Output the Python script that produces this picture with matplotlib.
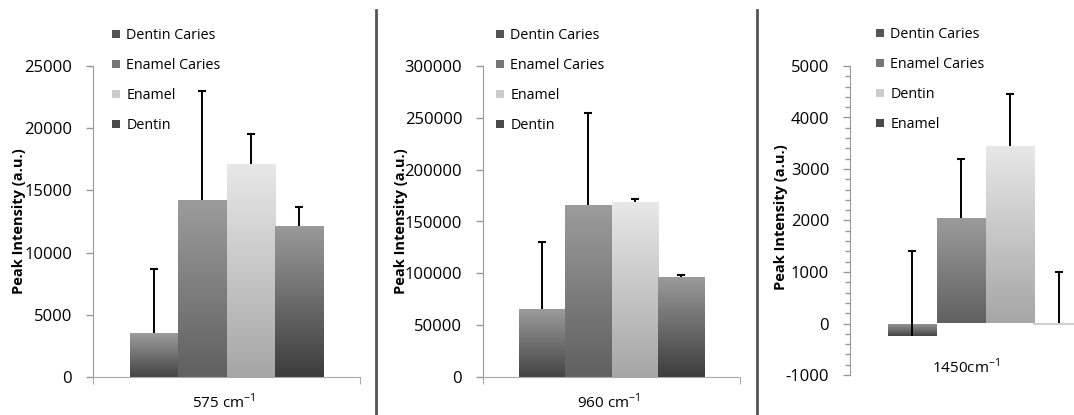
import numpy as np
import matplotlib
matplotlib.use("Agg")
import matplotlib.pyplot as plt
from matplotlib.colors import LinearSegmentedColormap
from matplotlib.patches import Patch
from matplotlib.lines import Line2D
from matplotlib.ticker import MultipleLocator

plt.rcParams['font.family'] = ['Open Sans', 'DejaVu Sans']
plt.rcParams['mathtext.fontset'] = 'custom'
plt.rcParams['mathtext.rm'] = 'Open Sans'
plt.rcParams['axes.unicode_minus'] = False

# ---- data ----
labels_575 = ["Dentin Caries", "Enamel Caries", "Enamel", "Dentin"]
values_575 = [3500, 14250, 17150, 12150]
err_top_575 = [8700, 23000, 19500, 13700]

labels_960 = ["Dentin Caries", "Enamel Caries", "Enamel", "Dentin"]
values_960 = [66000, 166000, 169000, 96000]
err_top_960 = [130000, 255000, 172000, 98000]

labels_1450 = ["Dentin Caries", "Enamel Caries", "Dentin", "Enamel"]
values_1450 = [-250, 2050, 3450, 10]
err_top_1450 = [1400, 3200, 4450, 1000]

xlabels = ["575 cm$^{-1}$", "960 cm$^{-1}$", "1450cm$^{-1}$"]
ylabel = "Peak Intensity (a.u.)"

# gradient (bottom, top) per series position
grad_std = [("#444444", "#9c9c9c"), ("#606060", "#9c9c9c"),
            ("#a6a6a6", "#e8e8e8"), ("#3c3c3c", "#9a9a9a")]
legend_cols = ["#555555", "#777777", "#cccccc", "#4a4a4a"]

W, H = 1074, 415
fig = plt.figure(figsize=(W / 100, H / 100), dpi=100)


def px_axes(l, r, b, t):
    return fig.add_axes([l / W, (H - b) / H, (r - l) / W, (b - t) / H])


def draw_panel(ax, values, errtop, labels, ylim, major, minor, xlabel,
               xlabel_pos, ylabel_pos, legend_px, show_bottom=True):
    w = 0.18
    offs = np.array([-1.5, -0.5, 0.5, 1.5]) * w
    bars = ax.bar(offs, values, width=w, color="none", edgecolor="none", zorder=2)
    for i, b in enumerate(bars):
        x0, bw, h = b.get_x(), b.get_width(), b.get_height()
        y0, y1 = min(0, h), max(0, h)
        cmap = LinearSegmentedColormap.from_list("g", list(grad_std[i]))
        grad = np.linspace(0, 1, 256).reshape(-1, 1)
        if y1 - y0 > 0:
            im = ax.imshow(grad, extent=[x0, x0 + bw, y0, y1], origin="lower",
                           aspect="auto", cmap=cmap, zorder=2, interpolation="bilinear")
            im.set_clip_path(b)
    if not show_bottom:
        b = bars[3]
        ax.plot([b.get_x(), b.get_x() + b.get_width()], [0, 0], color="#c8c8c8",
                lw=1.2, zorder=3)
    errs = [max(t - v, 0) for t, v in zip(errtop, values)]
    ax.errorbar(offs, values, yerr=[np.zeros(4), errs], fmt="none", ecolor="black",
                elinewidth=1.4, capsize=0, zorder=4)
    ax.plot(offs, errtop, linestyle="none", marker="_", markersize=5.5,
            markeredgewidth=1.5, color="black", zorder=4)
    ax.set_xlim(-0.5, 0.5)
    ax.set_ylim(*ylim)
    ax.yaxis.set_major_locator(MultipleLocator(major))
    if minor:
        ax.yaxis.set_minor_locator(MultipleLocator(minor))
        ax.tick_params(axis="y", which="minor", length=3.5, color="#999999", width=1)
    for s in ["top", "right"]:
        ax.spines[s].set_visible(False)
    ax.spines["left"].set_color("#999999")
    ax.spines["bottom"].set_color("#aaaaaa")
    if show_bottom:
        ax.set_xticks([-0.5, 0.5])
        ax.set_xticklabels([])
        ax.tick_params(axis="x", length=5, color="#aaaaaa")
        ax.set_xlabel(xlabel, fontsize=11)
        ax.xaxis.set_label_coords(*xlabel_pos)
    else:
        ax.spines["bottom"].set_visible(False)
        ax.set_xticks([])
        ax.text(xlabel_pos[0], xlabel_pos[1], xlabel, transform=ax.transAxes,
                ha="center", va="center", fontsize=11)
    ax.tick_params(axis="y", which="major", length=5, color="#999999", width=1,
                   labelsize=12, pad=10)
    ax.set_ylabel(ylabel, fontsize=10.5, fontweight="bold")
    ax.yaxis.set_label_coords(*ylabel_pos)
    ax.patch.set_alpha(0)
    handles = [Patch(facecolor=c, edgecolor="none") for c in legend_cols]
    ax.legend(handles, labels, loc="upper left", frameon=False, fontsize=10.3,
              bbox_to_anchor=(legend_px[0] / W, (H - legend_px[1]) / H),
              bbox_transform=fig.transFigure, borderpad=0, borderaxespad=0,
              handlelength=0.55, handleheight=0.55, handletextpad=0.45,
              labelspacing=1.05)


ax1 = px_axes(93, 360, 377, 66)
draw_panel(ax1, values_575, err_top_575, labels_575, (0, 25000), 5000, None,
           xlabels[0], (0.49, -0.05), (-0.25, 0.5), (112, 28))

ax2 = px_axes(483, 740, 377, 66)
draw_panel(ax2, values_960, err_top_960, labels_960, (0, 300000), 50000, None,
           xlabels[1], (0.49, -0.05), (-0.293, 0.5), (496, 28))

ax3 = px_axes(850, 1121, 375, 66)
draw_panel(ax3, values_1450, err_top_1450, labels_1450, (-1000, 5000), 1000, 200,
           xlabels[2], (0.428, 0.025), (-0.229, 0.51), (876, 27), show_bottom=False)

for xp in (376, 757):
    fig.add_artist(Line2D([xp / W, xp / W], [0, (H - 10) / H], color="#555555",
                          lw=2, transform=fig.transFigure))

fig.savefig("out.png", dpi=100)
